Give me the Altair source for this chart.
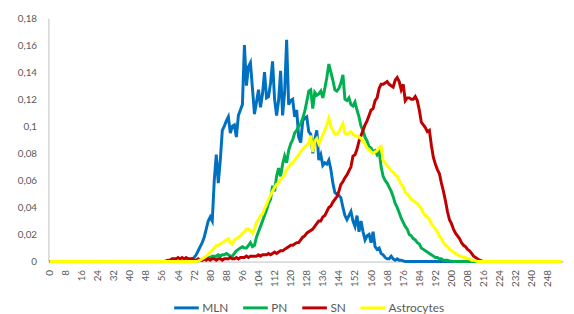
import altair as alt
import pandas as pd

categories = list(range(256))
tick_labels = [0, 8, 16, 24, 32, 40, 48, 56, 64, 72, 80, 88, 96, 104, 112, 120, 128,
               136, 144, 152, 160, 168, 176, 184, 192, 200, 208, 216, 224, 232, 240, 248]
y_ticks = [0, 0.02, 0.04, 0.06, 0.08, 0.1, 0.12, 0.14, 0.16, 0.18]
series_names = ["MLN", "PN", "SN", "Astrocytes"]
series_colors = ["#0070C0", "#00B050", "#C00000", "#FFFF00"]

mln = [
    0, 0, 0, 0, 0, 0, 0, 0, 0, 0, 0, 0, 0, 0, 0, 0,
    0, 0, 0, 0, 0, 0, 0, 0, 0, 0, 0, 0, 0, 0, 0, 0,
    0, 0, 0, 0, 0, 0, 0, 0, 0, 0, 0, 0, 0, 0, 0, 0,
    0, 0, 0, 0, 0, 0, 0, 0, 0, 0, 0, 0, 0, 0, 0, 0,
    0, 0, 0, 0, 0.0005, 0.001, 0.001, 0.002, 0.003, 0.005, 0.008, 0.011, 0.014, 0.018, 0.024, 0.030,
    0.033, 0.030, 0.060, 0.079, 0.058, 0.075, 0.097, 0.100, 0.104, 0.107, 0.095, 0.100, 0.101, 0.092, 0.108, 0.112,
    0.116, 0.160, 0.130, 0.144, 0.147, 0.128, 0.109, 0.118, 0.127, 0.114, 0.124, 0.140, 0.121, 0.122, 0.132, 0.148,
    0.120, 0.108, 0.119, 0.141, 0.108, 0.125, 0.164, 0.116, 0.119, 0.120, 0.107, 0.112, 0.092, 0.088, 0.104, 0.106,
    0.107, 0.096, 0.094, 0.080, 0.090, 0.097, 0.075, 0.079, 0.071, 0.073, 0.072, 0.075, 0.068, 0.058, 0.051, 0.050,
    0.049, 0.047, 0.040, 0.034, 0.031, 0.034, 0.037, 0.030, 0.026, 0.034, 0.022, 0.030, 0.022, 0.016, 0.019, 0.020,
    0.014, 0.022, 0.011, 0.009, 0.010, 0.006, 0.005, 0.003, 0.002, 0.002, 0.004, 0.002, 0.001, 0.002, 0.001, 0.001,
    0.0005, 0, 0, 0, 0, 0, 0, 0, 0, 0, 0, 0, 0, 0, 0, 0,
    0, 0, 0, 0, 0, 0, 0, 0, 0, 0, 0, 0, 0, 0, 0, 0,
    0, 0, 0, 0, 0, 0, 0, 0, 0, 0, 0, 0, 0, 0, 0, 0,
    0, 0, 0, 0, 0, 0, 0, 0, 0, 0, 0, 0, 0, 0, 0, 0,
    0, 0, 0, 0, 0, 0, 0, 0, 0, 0, 0, 0, 0, 0, 0, 0,
]

pn = [
    0, 0, 0, 0, 0, 0, 0, 0, 0, 0, 0, 0, 0, 0, 0, 0,
    0, 0, 0, 0, 0, 0, 0, 0, 0, 0, 0, 0, 0, 0, 0, 0,
    0, 0, 0, 0, 0, 0, 0, 0, 0, 0, 0, 0, 0, 0, 0, 0,
    0, 0, 0, 0, 0, 0, 0, 0, 0, 0, 0, 0, 0, 0, 0, 0,
    0, 0, 0, 0, 0, 0, 0, 0, 0, 0.0003, 0.0005, 0.001, 0.001, 0.002, 0.003, 0.003,
    0.003, 0.004, 0.004, 0.004, 0.005, 0.004, 0.005, 0.005, 0.006, 0.005, 0.004, 0.004, 0.006, 0.008, 0.009, 0.010,
    0.011, 0.010, 0.010, 0.012, 0.014, 0.011, 0.012, 0.018, 0.022, 0.026, 0.030, 0.034, 0.038, 0.043, 0.046, 0.056,
    0.052, 0.063, 0.069, 0.063, 0.072, 0.078, 0.073, 0.082, 0.087, 0.090, 0.095, 0.097, 0.100, 0.102, 0.106, 0.111,
    0.118, 0.126, 0.127, 0.113, 0.125, 0.123, 0.124, 0.126, 0.121, 0.128, 0.136, 0.146, 0.140, 0.134, 0.127, 0.126,
    0.128, 0.132, 0.138, 0.120, 0.119, 0.121, 0.116, 0.115, 0.118, 0.112, 0.107, 0.100, 0.097, 0.092, 0.089, 0.085,
    0.084, 0.081, 0.082, 0.079, 0.082, 0.070, 0.063, 0.060, 0.058, 0.055, 0.052, 0.048, 0.043, 0.040, 0.036, 0.032,
    0.029, 0.026, 0.024, 0.020, 0.019, 0.017, 0.016, 0.014, 0.013, 0.010, 0.009, 0.008, 0.007, 0.006, 0.005, 0.004,
    0.003, 0.003, 0.002, 0.002, 0.001, 0.001, 0.001, 0.0005, 0.0003, 0, 0, 0, 0, 0, 0, 0,
    0, 0, 0, 0, 0, 0, 0, 0, 0, 0, 0, 0, 0, 0, 0, 0,
    0, 0, 0, 0, 0, 0, 0, 0, 0, 0, 0, 0, 0, 0, 0, 0,
    0, 0, 0, 0, 0, 0, 0, 0, 0, 0, 0, 0, 0, 0, 0, 0,
]

sn = [
    0, 0, 0, 0, 0, 0, 0, 0, 0, 0, 0, 0, 0, 0, 0, 0,
    0, 0, 0, 0, 0, 0, 0, 0, 0, 0, 0, 0, 0, 0, 0, 0,
    0, 0, 0, 0, 0, 0, 0, 0, 0, 0, 0, 0, 0, 0, 0, 0,
    0, 0, 0, 0, 0, 0, 0, 0, 0, 0, 0.0005, 0.001, 0.001, 0.002, 0.002, 0.002,
    0.003, 0.002, 0.003, 0.002, 0.003, 0.002, 0.002, 0.002, 0.001, 0.001, 0.002, 0.001, 0.001, 0.002, 0.001, 0.002,
    0.001, 0.002, 0.002, 0.001, 0.002, 0.002, 0.001, 0.002, 0.002, 0.002, 0.003, 0.002, 0.002, 0.003, 0.002, 0.003,
    0.003, 0.003, 0.004, 0.003, 0.004, 0.004, 0.004, 0.004, 0.005, 0.004, 0.005, 0.005, 0.005, 0.006, 0.005, 0.006,
    0.007, 0.006, 0.007, 0.008, 0.008, 0.009, 0.010, 0.011, 0.012, 0.012, 0.013, 0.014, 0.014, 0.016, 0.018, 0.019,
    0.021, 0.022, 0.023, 0.024, 0.026, 0.028, 0.030, 0.030, 0.033, 0.034, 0.037, 0.040, 0.041, 0.044, 0.046, 0.048,
    0.052, 0.057, 0.059, 0.062, 0.064, 0.067, 0.070, 0.078, 0.079, 0.083, 0.089, 0.093, 0.097, 0.101, 0.104, 0.108,
    0.112, 0.113, 0.119, 0.121, 0.128, 0.131, 0.131, 0.132, 0.133, 0.131, 0.130, 0.129, 0.134, 0.136, 0.133, 0.127,
    0.131, 0.119, 0.121, 0.121, 0.120, 0.120, 0.122, 0.119, 0.112, 0.103, 0.101, 0.099, 0.096, 0.097, 0.086, 0.077,
    0.072, 0.068, 0.065, 0.058, 0.052, 0.045, 0.037, 0.031, 0.028, 0.024, 0.021, 0.019, 0.017, 0.014, 0.012, 0.011,
    0.009, 0.008, 0.006, 0.004, 0.003, 0.002, 0.001, 0.0005, 0, 0, 0, 0, 0, 0, 0, 0,
    0, 0, 0, 0, 0, 0, 0, 0, 0, 0, 0, 0, 0, 0, 0, 0,
    0, 0, 0, 0, 0, 0, 0, 0, 0, 0, 0, 0, 0, 0, 0, 0,
]

astrocytes = [
    0, 0, 0, 0, 0, 0, 0, 0, 0, 0, 0, 0, 0, 0, 0, 0,
    0, 0, 0, 0, 0, 0, 0, 0, 0, 0, 0, 0, 0, 0, 0, 0,
    0, 0, 0, 0, 0, 0, 0, 0, 0, 0, 0, 0, 0, 0, 0, 0,
    0, 0, 0, 0, 0, 0, 0, 0, 0, 0, 0, 0, 0, 0, 0, 0,
    0, 0, 0, 0, 0, 0, 0, 0, 0, 0, 0.0005, 0.001, 0.002, 0.003, 0.004, 0.005,
    0.007, 0.008, 0.010, 0.012, 0.012, 0.013, 0.014, 0.015, 0.016, 0.017, 0.014, 0.013, 0.016, 0.017, 0.018, 0.019,
    0.021, 0.022, 0.024, 0.024, 0.023, 0.021, 0.024, 0.029, 0.031, 0.034, 0.035, 0.039, 0.042, 0.046, 0.049, 0.052,
    0.055, 0.057, 0.058, 0.061, 0.062, 0.064, 0.068, 0.070, 0.072, 0.073, 0.075, 0.077, 0.079, 0.081, 0.083, 0.085,
    0.086, 0.088, 0.093, 0.081, 0.089, 0.091, 0.087, 0.090, 0.094, 0.097, 0.101, 0.106, 0.100, 0.097, 0.094, 0.094,
    0.096, 0.099, 0.102, 0.095, 0.094, 0.095, 0.096, 0.094, 0.093, 0.093, 0.092, 0.091, 0.089, 0.087, 0.084, 0.083,
    0.081, 0.080, 0.081, 0.082, 0.084, 0.085, 0.075, 0.073, 0.071, 0.069, 0.067, 0.066, 0.064, 0.063, 0.060, 0.057,
    0.055, 0.051, 0.050, 0.048, 0.046, 0.045, 0.044, 0.043, 0.041, 0.039, 0.036, 0.034, 0.033, 0.031, 0.028, 0.026,
    0.024, 0.022, 0.019, 0.017, 0.014, 0.012, 0.011, 0.009, 0.008, 0.007, 0.006, 0.005, 0.004, 0.004, 0.003, 0.003,
    0.002, 0.002, 0.001, 0.001, 0.0005, 0, 0, 0, 0, 0, 0, 0, 0, 0, 0, 0,
    0, 0, 0, 0, 0, 0, 0, 0, 0, 0, 0, 0, 0, 0, 0, 0,
    0, 0, 0, 0, 0, 0, 0, 0, 0, 0, 0, 0, 0, 0, 0, 0,
]

all_series = [mln, pn, sn, astrocytes]
rows = []
for name, vals in zip(series_names, all_series):
    assert len(vals) == 256
    for c, v in zip(categories, vals):
        rows.append({"bin": c, "value": v, "series": name})
df = pd.DataFrame(rows)

FONT = "Lato"
LABEL_COLOR = "#595959"
AXIS_COLOR = "#BFBFBF"

color = alt.Color(
    "series:N",
    scale=alt.Scale(domain=series_names, range=series_colors),
    legend=alt.Legend(
        title=None,
        orient="none",
        legendX=126,
        legendY=280,
        direction="horizontal",
        symbolType="stroke",
        symbolSize=625,
        symbolStrokeWidth=3,
        labelFont=FONT,
        labelFontSize=12,
        labelColor=LABEL_COLOR,
        labelOffset=2,
        columnPadding=8,
        padding=0,
    ),
)

x = alt.X(
    "bin:Q",
    scale=alt.Scale(domain=[-0.5, 255.5], nice=False, zero=False),
    axis=alt.Axis(
        title=None,
        values=tick_labels,
        labelAngle=-90,
        labelFont=FONT,
        labelFontSize=10,
        labelColor=LABEL_COLOR,
        ticks=False,
        grid=False,
        labelPadding=8,
        domainColor=AXIS_COLOR,
        labelOverlap=False,
        labelFlush=False,
    ),
)
y = alt.Y(
    "value:Q",
    scale=alt.Scale(domain=[0, 0.18], nice=False),
    axis=alt.Axis(
        title=None,
        values=y_ticks,
        labelExpr="replace(toString(round(datum.value*100)/100), '.', ',')",
        labelFont=FONT,
        labelFontSize=10,
        labelColor=LABEL_COLOR,
        ticks=False,
        grid=False,
        labelPadding=12,
        domainColor=AXIS_COLOR,
    ),
)

layers = []
for name in series_names:
    layers.append(
        alt.Chart(df)
        .transform_filter(alt.datum.series == name)
        .mark_line(strokeWidth=3, interpolate="linear")
        .encode(x=x, y=y, color=color)
    )

chart = (
    alt.layer(*layers)
    .properties(
        width=522,
        height=247,
        padding={"left": 41, "top": 8, "right": 3, "bottom": 51},
        autosize=alt.AutoSizeParams(type="none"),
    )
    .configure_view(strokeWidth=0)
)

chart.save("out.html", embed_options={"renderer": "svg", "actions": False})
